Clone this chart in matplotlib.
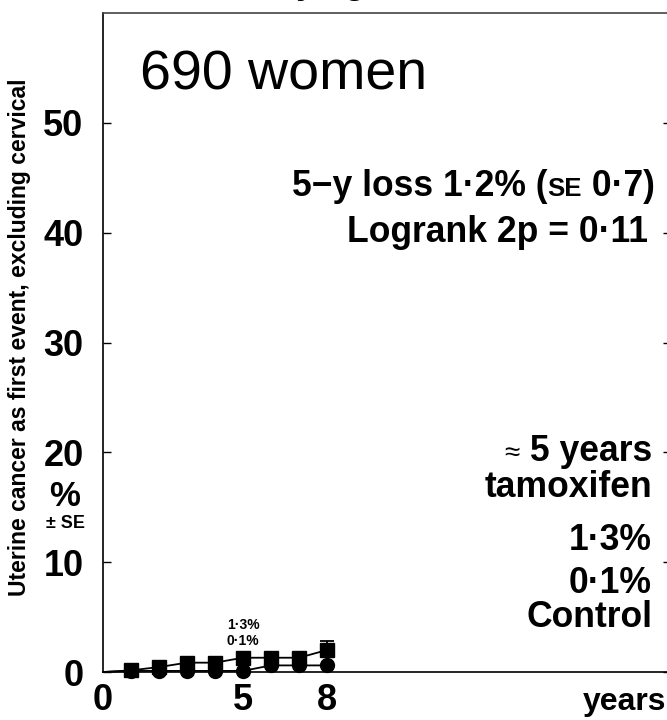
import numpy as np
import matplotlib.pyplot as plt

plt.rcParams['font.family'] = ['Liberation Sans', 'DejaVu Sans']

# years since randomisation
years = [0, 1, 2, 3, 4, 5, 6, 7, 8]
tamoxifen = [0, 0.15, 0.45, 0.85, 0.85, 1.3, 1.3, 1.3, 2.0]
control = [0, 0.1, 0.1, 0.1, 0.1, 0.1, 0.6, 0.6, 0.6]
# upper SE shown at 5 and 8 years
se_years = [5, 8]
se_tam = [0.5, 0.85]
se_vals = [1.3, 2.0]

yticks = [0, 10, 20, 30, 40, 50]
xticks = [0, 5, 8]

fig = plt.figure(figsize=(6.67, 7.2), dpi=100)
ax = fig.add_axes([103/667, 48/720, 568/667, 659/720])
ax.set_xlim(0, 568/28)
ax.set_ylim(0, 60)

ax.plot(years, tamoxifen, color='black', lw=1.3, clip_on=False)
ax.plot(years[1:], tamoxifen[1:], 's', color='black', ms=9.5, clip_on=False)
ax.plot(years, control, color='black', lw=1.3, clip_on=False)
ax.plot(years[1:], control[1:], 'o', color='black', ms=10, clip_on=False)
ax.errorbar(se_years, se_vals, yerr=[[0, 0], se_tam], fmt='none', ecolor='black',
            elinewidth=1.3, capsize=5, capthick=1.3)

ax.set_yticks(yticks)
ax.set_xticks(xticks)
ax.tick_params(axis='y', direction='in', length=6, width=1, right=True, labelsize=26, pad=14)
ax.tick_params(axis='x', length=0, labelsize=26, pad=8)
for lab in ax.get_xticklabels() + ax.get_yticklabels():
    lab.set_fontweight('bold')
for s in ax.spines.values():
    s.set_linewidth(1.2)
ax.spines['top'].set_color('#444444')

ax.text(0.065, 0.905, '690 women', transform=ax.transAxes, fontsize=40, va='center')

renderer = fig.canvas.get_renderer()


def right_chain(x_px, y_px, parts):
    # parts listed right to left: (text, size, weight); baseline-aligned
    x = x_px
    for txt, size, weight in parts:
        t = fig.text(x / 667, 1 - y_px / 720, txt, fontsize=size, fontweight=weight,
                     ha='right', va='baseline')
        x = t.get_window_extent(renderer).x0


big = 25.6
right_chain(655, 196, [(' 0\u00b77)', big, 'bold'), ('SE', 18.5, 'bold'),
                       ('5\u2212y loss 1\u00b72% (', big, 'bold')])
right_chain(648, 242, [('Logrank 2p = 0\u00b711', big, 'bold')])
right_chain(652, 461, [(' 5 years', big, 'bold'), ('\u2248', 20, 'normal')])
right_chain(652, 497, [('tamoxifen', big, 'bold')])
right_chain(652, 550, [('1\u00b73%', big, 'bold')])
right_chain(652, 593, [('0\u00b71%', big, 'bold')])
right_chain(652, 627, [('Control', big, 'bold')])

ax.text(5, 4.3, '1\u00b73%', ha='center', va='center', fontsize=10, fontweight='bold')
ax.text(5, 2.8, '0\u00b71%', ha='center', va='center', fontsize=10, fontweight='bold')

fig.text(625/667, 1 - 702/720, 'years', fontsize=23, fontweight='bold', ha='center', va='center')
fig.text(20/667, 1 - 337/720, 'Uterine cancer as first event, excluding cervical',
         rotation=90, fontsize=16.5, fontweight='bold', ha='center', va='center')
fig.text(65/667, 1 - 497/720, '%', fontsize=25, fontweight='bold', ha='center', va='center')
fig.text(65/667, 1 - 523/720, '\u00b1 SE', fontsize=13, fontweight='bold', ha='center', va='center')

# title, cut off at top of the panel
fig.text(330/667, 1 + 6/720, 'by age', fontsize=25, fontweight='bold', ha='center', va='baseline')

fig.savefig('out.png', dpi=100)
